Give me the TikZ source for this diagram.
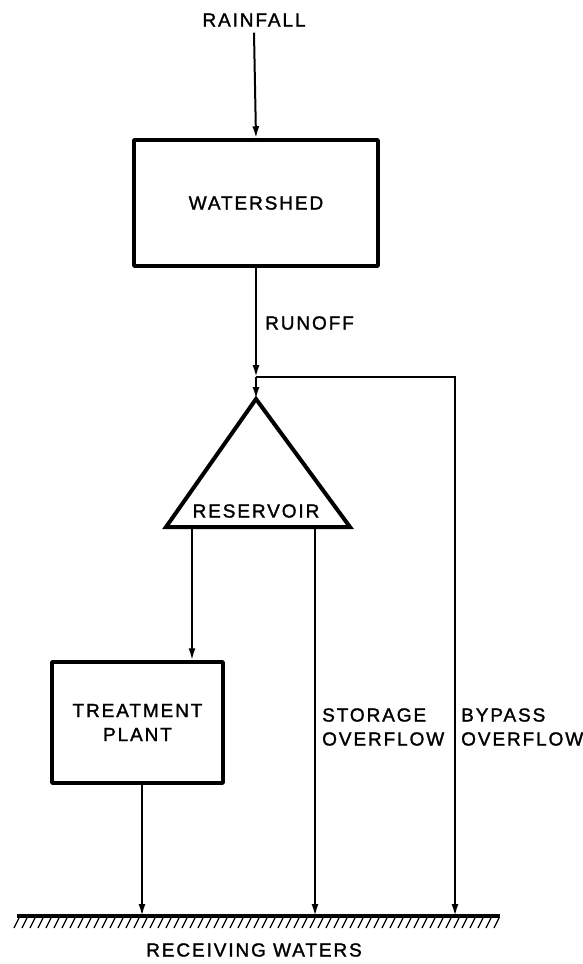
\documentclass[tikz,border=0pt]{standalone}
\usepackage{fontspec}
\setmainfont{Liberation Sans}[LetterSpace=10,FakeBold=1.5]
\usetikzlibrary{arrows.meta}
\tikzset{
  lbl/.style={inner sep=0pt, font=\fontsize{19}{24}\selectfont, align=center},
  lbll/.style={lbl, anchor=west, align=left},
  box/.style={draw, line width=3.5pt, line join=round, inner sep=0pt, font=\fontsize{19}{24}\selectfont, align=center},
  arr/.style={line width=2pt, -{Latex[length=12pt,width=7pt]}},
  res/.style={line width=4pt, line join=miter},
  ground/.style={line width=3.2pt},
  hatch/.style={line width=1.2pt}
}
\begin{document}
\begin{tikzpicture}[x=1pt,y=-1pt]
\useasboundingbox (0,0) rectangle (582,964);
% labels
\node[lbl] (rain) at (254,20) {RAINFALL};
\node[box, minimum width=244pt, minimum height=126pt] (ws) at (256,203) {WATERSHED};
\node[lbll] (runoff) at (265,323) {RUNOFF};
\node[box, minimum width=171pt, minimum height=121pt] (plant) at (137.5,722.5) {TREATMENT\\PLANT};
\node[lbll] (stor) at (322,727) {STORAGE\\OVERFLOW};
\node[lbll] (byp) at (461,727) {BYPASS\\OVERFLOW};
\node[lbl] (recv) at (254,950) {RECEIVING WATERS};
% reservoir
\coordinate (apex) at (256,399);
\coordinate (rl) at (166,527);
\coordinate (rr) at (350,527);
\draw[res] (apex) -- (rl) -- (rr) -- cycle;
\node[lbl] (resv) at (256,511) {RESERVOIR};
% junction and ground coordinates
\coordinate (jn) at (256,377);
\coordinate (tb) at (192,527);
\coordinate (sb) at (315,527);
\coordinate (gP) at (142,916);
\coordinate (gS) at (315,916);
\coordinate (gB) at (455,916);
\coordinate (gl) at (17,916);
\coordinate (gr) at (500,916);
% connectors
\draw[arr] ([yshift=-6pt]rain.south) -- (ws.north);
\draw[arr] (ws.south) -- (jn);
\draw[arr] (jn) -- (apex);
\draw[arr] (jn) -| (gB);
\draw[arr] (tb) -- (tb |- plant.north);
\draw[arr] (sb) -- (gS);
\draw[arr] (plant.south -| gP) -- (gP);
% ground
\draw[ground] (gl) -- (gr);
\foreach \x in {14,22,...,494} \draw[hatch] (\x,928) -- (\x+5,918);
\end{tikzpicture}
\end{document}
